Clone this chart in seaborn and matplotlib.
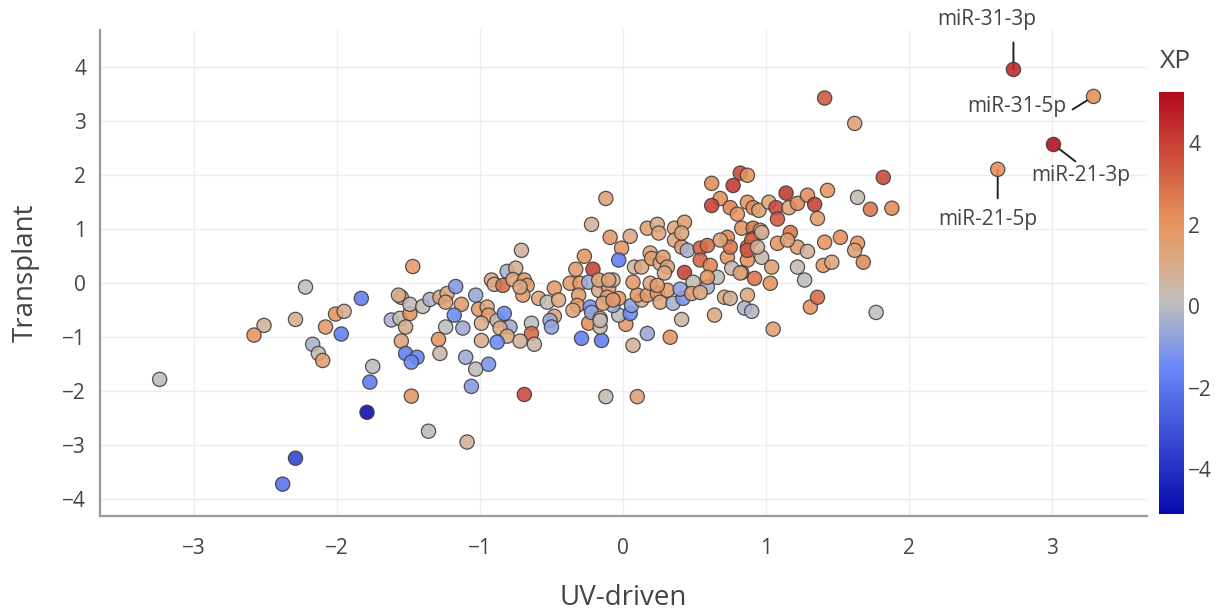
import numpy as np
import pandas as pd
import matplotlib
matplotlib.use("Agg")
import matplotlib.pyplot as plt
import seaborn as sns
from matplotlib.colors import LinearSegmentedColormap, Normalize
from matplotlib.cm import ScalarMappable

# ---------------- data ----------------
uv = [
    -3.24, -2.22, -2.51, -2.58, -2.29, -2.17, -2.13, -2.10, -2.08, -2.01,
    -1.95, -1.97, -1.83, -2.29, -2.38,
    -0.22, -0.71, -1.47, -0.27, -0.33, -0.21, -1.55, -1.57, -1.62, -1.56,
    -1.49, -1.49, -1.40, -1.35, -1.52, -1.55, -1.52, -1.44, -1.48, -1.75,
    -1.77, -1.79, -1.48, -1.36, -1.09, -1.28, -1.23, -1.24, -1.17, -1.13,
    -1.18, -1.24, -1.29, -1.28, -1.12, -1.10, -1.03, -1.03, -0.94, -1.06,
    -1.01, -0.95, -0.94, -0.99, -0.88, -0.83, -0.79, -0.86, -0.81, -0.88,
    -0.99, -0.92, -0.90, -0.84, -0.81, -0.75, -0.77, -0.69, -0.67, -0.70,
    -0.72, -0.64, -0.64, -0.72, -0.62, -0.69, -0.59, -0.53, -0.48, -0.45,
    -0.48, -0.51, -0.50, -0.37, -0.30, -0.31, -0.32, -0.35, -0.24, -0.23,
    -0.24, -0.29, -0.15, -0.12, 0.10,
    0.82, 0.87, 0.62, 0.77, -0.12, 0.68, 0.62, 0.75, 0.80, 0.87,
    0.91, 0.95, 1.02, 1.07, 1.08, 1.14, 1.16, 1.22, 1.29, 1.34,
    1.36, -0.09, 0.05, -0.01, -0.03, 0.17, 0.24, 0.25, 0.36, 0.43,
    0.36, 0.41, 0.45, 0.54, 0.59, 0.54, 0.61, 0.43, 0.49, 0.59,
    0.66, 0.73, 0.73, 0.75, 0.83, 0.91, 0.91, 0.87, 0.96, 0.97,
    0.87, 0.83, 0.76, 0.92, 1.03, 1.04, 1.08, 1.17, 1.22, 1.29,
    1.22, 1.27, 0.87, 0.85, 0.90, 1.05, 1.31, 1.36, 0.64, 0.71,
    0.75, 0.41, 0.33, 0.17, 0.07, 0.02, -0.16, -0.03, 0.05, -0.07,
    0.06, 0.13, 0.10, 0.17, 0.24, 0.26, 0.31, 0.35, 0.42, 0.40,
    0.48, 0.54, 0.59, 0.07, 0.08, 0.13, 0.19, 0.20, 0.26, 0.28,
    0.31, 0.29, 0.19, 0.24, -0.14, -0.17, -0.10, -0.11, -0.14, -0.07,
    -0.03, -0.22, -0.16,
    1.43, 0.90, 0.97, 0.68, 0.87, 0.94, 1.15, 1.41, 1.40, 0.82,
    1.41, 1.62, 3.29, 3.01, 2.62, 2.73, 1.82, 1.64, 1.73, 1.88,
    1.52, 1.64, 1.62, 1.68, 1.46, 1.77,
    -0.17, -0.10, -0.07, -0.16, 0.41,
]
transplant = [
    -1.78, -0.07, -0.78, -0.96, -0.67, -1.13, -1.30, -1.43, -0.81, -0.57,
    -0.52, -0.94, -0.28, -3.24, -3.72,
    1.09, 0.61, 0.31, 0.50, 0.26, 0.26, -0.26, -0.22, -0.68, -0.65,
    -0.56, -0.39, -0.43, -0.30, -0.81, -1.07, -1.30, -1.37, -1.46, -1.54,
    -1.83, -2.39, -2.09, -2.74, -2.94, -0.26, -0.19, -0.35, -0.06, -0.39,
    -0.59, -0.81, -1.04, -1.30, -0.83, -1.37, -0.22, -1.59, -1.50, -1.91,
    -0.48, -0.44, -0.59, -0.74, -0.69, -0.56, -0.81, -0.83, -0.98, -1.09,
    -1.06, 0.06, -0.02, -0.04, 0.22, 0.28, 0.07, 0.06, -0.04, -0.22,
    -0.07, -0.74, -0.93, -1.07, -1.13, -2.06, -0.28, -0.35, -0.09, -0.31,
    -0.61, -0.69, -0.81, 0.00, 0.00, -0.22, -0.41, -0.50, 0.02, -0.44,
    -0.74, -1.02, -1.06, -2.10, -2.10,
    2.04, 2.00, 1.85, 1.81, 1.57, 1.57, 1.44, 1.40, 1.28, 1.50,
    1.40, 1.35, 1.50, 1.40, 1.19, 1.67, 1.40, 1.48, 1.63, 1.46,
    1.20, 0.85, 0.87, 0.65, 0.43, 1.02, 1.09, 0.93, 1.02, 1.13,
    0.80, 0.67, 0.61, 0.65, 0.70, 0.43, 0.33, 0.20, 0.02, -0.07,
    0.11, 0.48, 0.85, 0.67, 1.02, 1.02, 0.83, 0.67, 0.98, 0.48,
    0.43, 0.20, 0.28, 0.09, 0.00, 0.30, 0.74, 0.94, 0.67, 0.59,
    0.30, 0.06, -0.22, -0.46, -0.52, -0.85, -0.44, -0.26, -0.59, -0.26,
    -0.28, -0.67, -1.00, -0.93, -1.15, -0.76, -0.81, -0.59, -0.56, -0.41,
    -0.41, -0.31, -0.22, -0.22, -0.19, -0.35, -0.13, -0.37, -0.28, -0.11,
    -0.19, -0.17, 0.11, 0.02, 0.30, 0.30, 0.56, 0.46, 0.37, 0.48,
    0.30, 0.19, 0.00, -0.04, 0.02, -0.13, -0.09, -0.26, -0.37, 0.06,
    -0.28, -0.54, -0.65,
    1.72, 0.80, 0.94, 0.80, 0.61, 0.67, 0.80, 0.76, 0.33, 0.19,
    3.43, 2.96, 3.46, 2.57, 2.11, 3.96, 1.96, 1.59, 1.37, 1.39,
    0.85, 0.74, 0.61, 0.39, 0.39, -0.54,
    0.06, 0.06, -0.31, -0.69, 0.93,
]
xp = [
    0.2, 0.1, 0.8, 2.0, 1.0, -0.3, 0.5, 1.6, 1.8, 2.0,
    1.0, -1.8, -1.8, -3.5, -2.2,
    0.7, 0.7, 1.8, 2.0, 1.8, 4.0, 1.2, 1.0, -0.3, 0.3,
    2.0, 0.2, 0.3, -0.3, 1.0, 1.4, -1.8, -1.7, -1.5, 0.0,
    -1.9, -5.1, 2.0, 0.2, 0.7, 1.2, 1.2, 1.5, -1.0, 1.8,
    -1.5, 0.1, 2.0, 0.5, -0.5, -0.5, -0.6, 0.2, -1.2, -1.0,
    1.8, 1.3, 1.6, 1.0, 0.3, -1.5, -0.5, 1.2, 1.2, -1.5,
    1.0, 1.2, 1.0, 3.0, -0.3, 1.0, 1.3, 1.8, 1.7, 1.8,
    1.2, 0.0, 3.0, 0.7, 0.5, 3.8, 1.3, 0.3, 1.8, 1.2,
    1.4, -0.6, -0.7, 1.8, 1.7, 1.8, 1.8, 1.3, -0.5, -1.2,
    2.2, -1.8, -1.8, 0.3, 1.5,
    3.8, 2.0, 2.3, 4.2, 1.5, 2.2, 4.0, 2.5, 2.0, 2.0,
    2.3, 1.5, 1.4, 3.8, 3.5, 4.2, 1.3, 2.3, 2.2, 4.0,
    1.8, 1.8, 1.2, 1.9, -1.8, 1.6, 1.0, 1.3, 1.2, 1.6,
    1.2, 1.7, -0.3, 3.3, 3.0, 3.2, 2.5, 4.0, 0.3, -0.3,
    0.2, 2.0, 2.4, 2.8, 2.0, 2.8, 2.3, 3.0, 1.2, 0.4,
    2.0, 1.8, 0.3, 2.8, 2.0, 1.6, 2.0, 2.8, 1.7, 0.8,
    0.3, 0.0, 1.2, -0.3, -0.2, 1.5, 2.0, 3.0, 1.2, 1.2,
    0.8, 0.6, 2.0, -0.6, 0.8, 1.8, 0.5, 0.0, -1.5, -0.4,
    -0.8, 1.0, 1.8, 1.8, 1.8, 1.2, 1.7, -0.4, -1.2, -0.8,
    1.5, 1.2, 2.0, 1.8, 0.6, 1.2, 1.2, 1.6, 1.2, 1.8,
    1.4, 1.2, 1.3, 1.8, 1.2, 1.0, 1.7, 1.2, 1.5, 0.7,
    1.8, -0.7, 1.0,
    2.0, 3.2, 0.8, 1.5, 3.4, 0.8, 1.6, 2.0, 2.0, 1.3,
    3.5, 1.5, 2.2, 5.25, 2.2, 4.6, 3.8, 0.3, 2.8, 2.3,
    2.2, 2.0, 1.5, 2.3, 1.3, 0.1,
    1.2, 1.3, 1.8, 0.2, 1.3,
]

# labelled points: name, UV-driven, Transplant
label_names = ["miR-31-3p", "miR-31-5p", "miR-21-3p", "miR-21-5p"]
label_uv = [2.73, 3.29, 3.01, 2.62]
label_tr = [3.96, 3.46, 2.57, 2.11]
# (line tail offset, text offset) in points relative to the labelled point
line_offsets = [(0, 19.4), (-15.1, -9.4), (15.8, -12.2), (0, -20.9)]
line_shrink = [0, 4.6, 4.6, 0]
text_offsets = [(-19.4, 36.0), (-55.4, -7.2), (19.4, -22.3), (-7.2, -36.0)]

x_ticks = [-3, -2, -1, 0, 1, 2, 3]
y_ticks = [-4, -3, -2, -1, 0, 1, 2, 3, 4]
cb_ticks = [-4, -2, 0, 2, 4]
xp_min, xp_max = -5.1, 5.25

# ---------------- style ----------------
sns.set_style("white")
plt.rcParams["font.family"] = ["Open Sans", "DejaVu Sans"]
plt.rcParams["axes.unicode_minus"] = True

TXT = "#444444"
AX = "#9a9a9a"

cmap = LinearSegmentedColormap.from_list(
    "plotly_rdbu",
    [(0.0, (5/255, 10/255, 172/255)),
     (0.35, (106/255, 137/255, 247/255)),
     (0.5, (190/255, 190/255, 190/255)),
     (0.6, (220/255, 170/255, 132/255)),
     (0.7, (230/255, 145/255, 90/255)),
     (1.0, (178/255, 10/255, 28/255))])
norm = Normalize(vmin=xp_min, vmax=xp_max)

df = pd.DataFrame({"UV-driven": uv, "Transplant": transplant, "XP": xp})

fig = plt.figure(figsize=(12.26, 6.11), dpi=100)
ax = fig.add_axes([100/1226, 1 - 516/611, 1047/1226, 486/611])

sns.scatterplot(data=df, x="UV-driven", y="Transplant", hue="XP",
                palette=cmap, hue_norm=norm, s=105, edgecolor="#3c3c3c",
                linewidth=0.9, alpha=0.88, legend=False, ax=ax, zorder=3)

ax.set_xlim(-3.657, 3.664)
ax.set_ylim(-4.31, 4.69)
ax.set_xticks(x_ticks)
ax.set_yticks(y_ticks)
ax.grid(True, color="#ededed", lw=1.0, zorder=0)
ax.set_axisbelow(True)
for s in ["top", "right"]:
    ax.spines[s].set_visible(False)
for s in ["left", "bottom"]:
    ax.spines[s].set_color(AX)
    ax.spines[s].set_linewidth(1.6)
ax.tick_params(axis="both", direction="in", length=7, width=1.3, color=AX,
               labelsize=15, labelcolor=TXT)
ax.tick_params(axis="x", pad=16)
ax.tick_params(axis="y", pad=10)
ax.set_xlabel("UV-driven", fontsize=20, color=TXT, labelpad=18)
ax.set_ylabel("Transplant", fontsize=20, color=TXT, labelpad=16)

for name, px, py, lo, sh, to in zip(label_names, label_uv, label_tr,
                                    line_offsets, line_shrink, text_offsets):
    ax.annotate("", xy=(px, py), xytext=lo, textcoords="offset points",
                arrowprops=dict(arrowstyle="-", color="#222222", lw=1.4,
                                shrinkA=0, shrinkB=sh),
                annotation_clip=False, zorder=2)
    ax.annotate(name, xy=(px, py), xytext=to, textcoords="offset points",
                ha="center", va="center", fontsize=15, color=TXT,
                annotation_clip=False, zorder=4)

# colorbar
cax = fig.add_axes([1159/1226, 1 - 514/611, 25/1226, 422/611])
cb = fig.colorbar(ScalarMappable(norm=norm, cmap=cmap), cax=cax)
cb.outline.set_visible(False)
cb.set_ticks(cb_ticks)
cax.tick_params(length=0, labelsize=15, labelcolor=TXT, pad=3)
fig.text(1160/1226, 1 - 61/611, "XP", fontsize=19, color=TXT,
         ha="left", va="center")

fig.savefig("out.png", dpi=100)
